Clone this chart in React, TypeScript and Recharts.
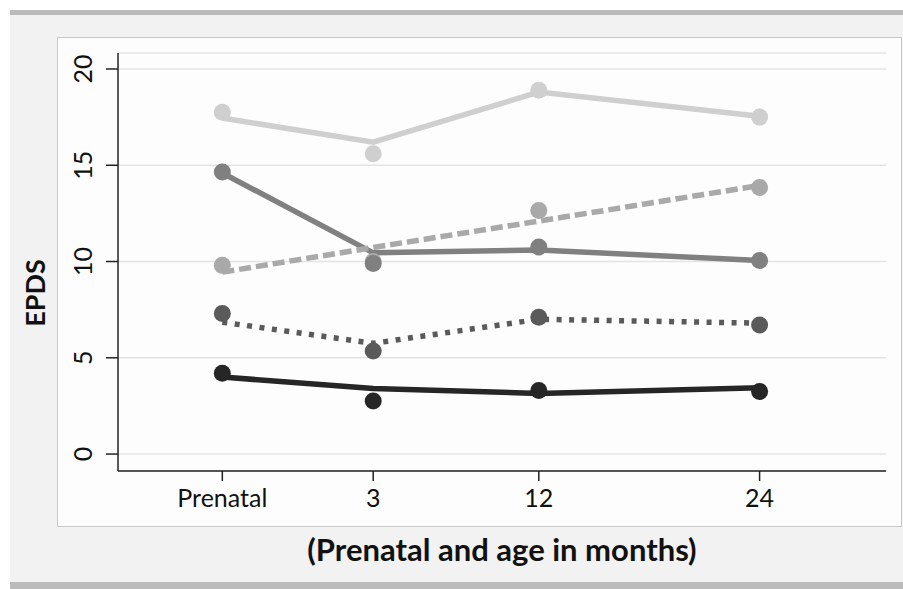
import React from 'react';
import { ComposedChart, Line, Scatter, XAxis, YAxis, CartesianGrid, Label } from 'recharts';

const xValues = [-5.2, 3, 12, 24];
const xLabels = ['Prenatal', '3', '12', '24'];
const yTicks = [0, 5, 10, 15, 20];

// observed means (points) and fitted trajectories (lines)
const s1Obs = [17.75, 15.6, 18.9, 17.5];
const s1Fit = [17.45, 16.2, 18.8, 17.55];
const s2Obs = [14.65, 9.9, 10.75, 10.05];
const s2Fit = [14.6, 10.45, 10.6, 10.05];
const s3Obs = [9.8, 10.0, 12.65, 13.85];
const s3Fit = [9.45, 10.73, 12.1, 13.95];
const s4Obs = [7.3, 5.35, 7.1, 6.7];
const s4Fit = [6.85, 5.75, 7.0, 6.8];
const s5Obs = [4.2, 2.75, 3.3, 3.25];
const s5Fit = [4.0, 3.4, 3.15, 3.45];

const rows = xValues.map((x, i) => ({
  x,
  s1o: s1Obs[i], s1f: s1Fit[i],
  s2o: s2Obs[i], s2f: s2Fit[i],
  s3o: s3Obs[i], s3f: s3Fit[i],
  s4o: s4Obs[i], s4f: s4Fit[i],
  s5o: s5Obs[i], s5f: s5Fit[i],
}));

const C1 = '#cfcfcf';
const C2 = '#808080';
const C3 = '#a9a9a9';
const C4 = '#5a5a5a';
const C5 = '#262626';

const dotShape = (color: string) => (props: any) => (
  <circle cx={props.cx} cy={props.cy} r={8.5} fill={color} stroke="none" />
);

const XTick = (props: any) => {
  const { x, y, payload } = props;
  const idx = xValues.indexOf(payload.value);
  return (
    <text x={x} y={y + 26} textAnchor="middle" fontFamily="Lato" fontSize={25} fill="#111">
      {idx >= 0 ? xLabels[idx] : payload.value}
    </text>
  );
};

const YTick = (props: any) => {
  const { x, y, payload } = props;
  const bx = x - 14;
  return (
    <text x={bx} y={y} transform={`rotate(-90, ${bx}, ${y})`} textAnchor="middle" fontFamily="Lato" fontSize={25} fill="#111">
      {payload.value}
    </text>
  );
};

export default function App() {
  return (
    <div style={{ position: 'absolute', left: 0, top: 0, width: 903, height: 589, background: '#ffffff', overflow: 'hidden' }}>
      <div style={{ position: 'absolute', left: 10, top: 15, width: 893, height: 567, background: '#f2f2f2' }} />
      <div style={{ position: 'absolute', left: 10, top: 10, width: 893, height: 5, background: '#bbbbbb' }} />
      <div style={{ position: 'absolute', left: 10, top: 582, width: 893, height: 7, background: '#bbbbbb' }} />
      <div style={{ position: 'absolute', left: 57, top: 37, width: 843, height: 488, background: '#fdfdfd', border: '1px solid #c8c8c8' }} />
      <div style={{ position: 'absolute', left: 0, top: 0 }}>
        <ComposedChart width={903} height={589} data={rows} margin={{ top: 53, right: 17, bottom: 78, left: 58 }}>
          <CartesianGrid horizontal={true} vertical={false} stroke="#e4e4e4" strokeWidth={1.5} />
          <XAxis
            type="number"
            dataKey="x"
            domain={[-10.87, 30.87]}
            ticks={xValues}
            allowDataOverflow
            height={40}
            tickSize={10}
            tickMargin={0}
            stroke="#222"
            strokeWidth={1.5}
            tick={<XTick />}
            tickLine={{ stroke: '#222', strokeWidth: 1.5 }}
          >
            <Label
              content={() => (
                <text x={502} y={561} textAnchor="middle" fontFamily="Lato" fontWeight={700} fontSize={31} fill="#111">
                  (Prenatal and age in months)
                </text>
              )}
            />
          </XAxis>
          <YAxis
            type="number"
            domain={[-0.88, 20.83]}
            ticks={yTicks}
            allowDataOverflow
            width={60}
            tickSize={12}
            tickMargin={0}
            stroke="#222"
            strokeWidth={1.5}
            tick={<YTick />}
            tickLine={{ stroke: '#222', strokeWidth: 1.5 }}
          >
            <Label
              content={() => (
                <text x={45} y={293} transform="rotate(-90, 45, 293)" textAnchor="middle" fontFamily="Lato" fontWeight={700} fontSize={27} fill="#111">
                  EPDS
                </text>
              )}
            />
          </YAxis>

          <Scatter dataKey="s1o" fill={C1} shape={dotShape(C1)} isAnimationActive={false} />
          <Scatter dataKey="s3o" fill={C3} shape={dotShape(C3)} isAnimationActive={false} />
          <Scatter dataKey="s2o" fill={C2} shape={dotShape(C2)} isAnimationActive={false} />
          <Scatter dataKey="s4o" fill={C4} shape={dotShape(C4)} isAnimationActive={false} />
          <Scatter dataKey="s5o" fill={C5} shape={dotShape(C5)} isAnimationActive={false} />

          <Line type="linear" dataKey="s1f" stroke={C1} strokeWidth={5.5} dot={false} activeDot={false} isAnimationActive={false} />
          <Line type="linear" dataKey="s2f" stroke={C2} strokeWidth={5.5} dot={false} activeDot={false} isAnimationActive={false} />
          <Line type="linear" dataKey="s3f" stroke={C3} strokeWidth={5.5} strokeDasharray="12 5" dot={false} activeDot={false} isAnimationActive={false} />
          <Line type="linear" dataKey="s4f" stroke={C4} strokeWidth={5.5} strokeDasharray="5 7.5" dot={false} activeDot={false} isAnimationActive={false} />
          <Line type="linear" dataKey="s5f" stroke={C5} strokeWidth={5.5} dot={false} activeDot={false} isAnimationActive={false} />
        </ComposedChart>
      </div>
    </div>
  );
}
